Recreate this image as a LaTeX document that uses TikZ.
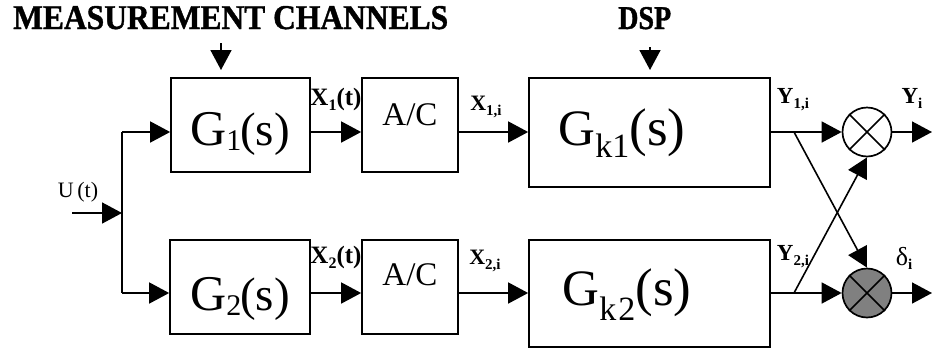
\documentclass[tikz,border=0pt]{standalone}
\usepackage{fontspec}
\usepackage{graphicx}
\setmainfont{Liberation Serif}
\newfontfamily\hvy[FakeBold=1.2]{Liberation Serif}
\usetikzlibrary{arrows.meta,calc}
\newcommand\fs[1]{\fontsize{#1}{#1}\selectfont}
\begin{document}
\begin{tikzpicture}[x=1pt,y=-1pt,
  blk/.style={draw, line width=1.7pt, inner sep=0pt},
  ln/.style={line width=1.6pt},
  sig/.style={line width=1.6pt, -{Triangle[length=20pt,width=21pt]}},
  mult/.style={draw, circle, line width=1.7pt, minimum size=49pt, inner sep=0pt},
  txt/.style={inner sep=0pt, anchor=base},
]
\useasboundingbox (0,0) rectangle (932,349);

% headings
\node[txt, anchor=base west] (mc) at (13,29) {\resizebox{435pt}{23pt}{\hvy\bfseries MEASUREMENT CHANNELS}};
\node[txt, anchor=base west] (dsp) at (618,29) {\resizebox{53pt}{22pt}{\hvy\bfseries DSP}};
\coordinate (mcS) at (221,43);
\coordinate (mcE) at (221,70);
\coordinate (dspS) at (650,47);
\coordinate (dspE) at (650,70);

% blocks
\node[blk, minimum width=139pt, minimum height=94pt] (G1) at (240.5,125) {};
\node[blk, minimum width=96pt, minimum height=94pt] (AC1) at (410,125) {};
\node[blk, minimum width=241pt, minimum height=109pt] (Gk1) at (649.5,132.5) {};
\node[blk, minimum width=140pt, minimum height=94pt] (G2) at (240,287) {};
\node[blk, minimum width=96pt, minimum height=94pt] (AC2) at (410,287) {};
\node[blk, minimum width=241pt, minimum height=107pt] (Gk2) at (649.5,293.5) {};

% block texts
\node[txt] (tG1) at (240,145) {{\fs{50}G}\raisebox{-5pt}{\fs{30}1}\kern-1pt{\fs{47}(s)}};
\node[txt] (tG2) at (240,310) {{\fs{50}G}\raisebox{-5pt}{\fs{30}2}\kern-1pt{\fs{47}(s)}};
\node[txt] (tAC1) at (410,125) {\fs{33}A/C};
\node[txt] (tAC2) at (410,285) {\fs{33}A/C};
\node[txt] (tGk1) at (622,145) {{\fs{51}G}\raisebox{-12pt}{\fs{34}k1}{\fs{53}(s)}};
\node[txt] (tGk2) at (627,305) {{\fs{51}G}\raisebox{-15pt}{\fs{34}k\kern2pt 2}{\fs{53}(s)}};

% multipliers
\node[mult] (M1) at (867,132) {};
\node[mult, fill=black!50] (M2) at (867,293) {};
\draw[ln] (M1.north west) -- (M1.south east) (M1.north east) -- (M1.south west);
\draw[ln] (M2.north west) -- (M2.south east) (M2.north east) -- (M2.south west);

% coordinates
\coordinate (uin) at (72,213);
\coordinate (split) at (122,213);
\coordinate (splitT) at (122,132);
\coordinate (splitB) at (122,293);
\coordinate (b1) at (794,132);
\coordinate (b2) at (794,293);
\coordinate (out1) at (932,132);
\coordinate (out2) at (932,293);

% connectors
\draw[sig] (mcS) -- (mcE);
\draw[sig] (dspS) -- (dspE);
\draw[sig] (uin) -- (split);
\draw[ln] (splitT) -- (splitB);
\draw[sig] (splitT) -- (splitT -| G1.west);
\draw[sig] (splitB) -- (splitB -| G2.west);
\draw[sig] (G1.east |- splitT) -- (AC1.west |- splitT);
\draw[sig] (G2.east |- splitB) -- (AC2.west |- splitB);
\draw[sig] (AC1.east |- splitT) -- (Gk1.west |- splitT);
\draw[sig] (AC2.east |- splitB) -- (Gk2.west |- splitB);
\draw[sig] (Gk1.east |- M1) -- (M1.west);
\draw[sig] (Gk2.east |- M2) -- (M2.west);
\draw[sig] (M1.east) -- (out1);
\draw[sig] (M2.east) -- (out2);
\draw[sig] (b1) -- (M2.north);
\draw[sig] (b2) -- (M1.south);

% signal labels
\node[txt] (lU) at (78,197) {\fs{22}U\,(t)};
\node[txt] (lX1t) at (336,105) {\fs{25}\bfseries X\raisebox{-5pt}{\fs{16}1}(t)};
\node[txt] (lX2t) at (336,263) {\fs{25}\bfseries X\raisebox{-5pt}{\fs{16}2}(t)};
\node[txt] (lX1i) at (486,110) {\fs{22}\bfseries X\raisebox{-5pt}{\fs{15}1,i}};
\node[txt] (lX2i) at (485,264) {\fs{22}\bfseries X\raisebox{-5pt}{\fs{15}2,i}};
\node[txt] (lY1i) at (793,103) {\fs{23}\bfseries Y\raisebox{-5pt}{\fs{15}1,i}};
\node[txt] (lY2i) at (793,260) {\fs{23}\bfseries Y\raisebox{-5pt}{\fs{15}2,i}};
\node[txt] (lYi) at (912,103) {\fs{23}\bfseries Y\raisebox{-5pt}{\fs{15}i}};
\node[txt] (ldi) at (904,265) {\fs{26}δ\raisebox{-4pt}{\fs{15}\bfseries i}};
\end{tikzpicture}
\end{document}
